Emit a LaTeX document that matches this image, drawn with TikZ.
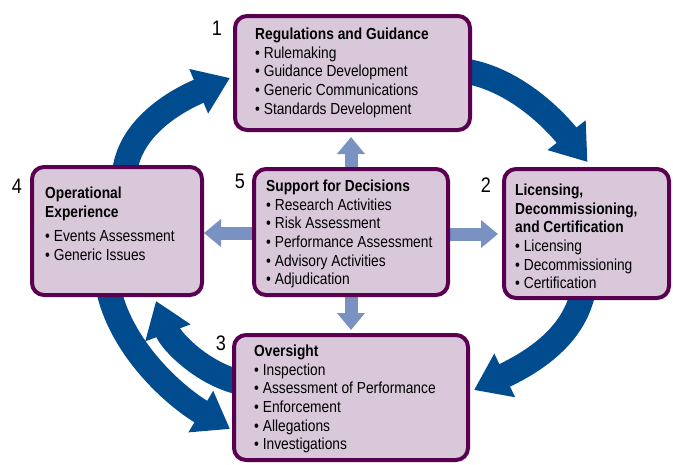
\documentclass[tikz,border=0pt]{standalone}
\usepackage{fontspec}
\setmainfont[FakeStretch=0.86]{Liberation Sans}
\usetikzlibrary{arrows.meta,backgrounds}

\definecolor{boxfill}{RGB}{216,200,218}
\definecolor{boxline}{RGB}{90,0,80}
\definecolor{cycleblue}{RGB}{0,76,143}
\definecolor{supportblue}{RGB}{122,146,194}

\tikzset{
    box/.style={draw=boxline, fill=boxfill, line width=4pt, rounded corners=12pt, inner sep=0pt},
    boxtext/.style={anchor=north west, inner sep=0pt, align=left, font=\fontsize{16}{18.6}\selectfont},
    stepnum/.style={font=\fontsize{21}{24}\selectfont},
    cyclearrow/.style={draw=cycleblue, line width=25pt, -{Triangle[width=46pt,length=34pt]}},
    supportarrow/.style={draw=supportblue, line width=13pt, -{Triangle[width=27pt,length=17pt]}},
}

\begin{document}
\begin{tikzpicture}[x=1pt, y=-1pt]
    \useasboundingbox (0,0) rectangle (673,464);

    % The five boxes
    \node[box, minimum width=235pt, minimum height=114pt] (reg) at (352.5,73) {};
    \node[box, minimum width=165pt, minimum height=129pt] (lic) at (586.5,233.5) {};
    \node[box, minimum width=234pt, minimum height=125pt] (ovs) at (351,397.5) {};
    \node[box, minimum width=170pt, minimum height=128pt] (ops) at (117,231) {};
    \node[box, minimum width=194pt, minimum height=126pt] (sup) at (351,232) {};

    % Box contents
    \node[boxtext] (regtext) at (255,28) {\textbf{Regulations and Guidance}\\
        •\ Rulemaking\\ •\ Guidance Development\\
        •\ Generic Communications\\ •\ Standards Development};
    \node[boxtext] (lictext) at (515,184) {\textbf{Licensing,}\\
        \textbf{Decommissioning,}\\ \textbf{and Certification}\\
        •\ Licensing\\ •\ Decommissioning\\ •\ Certification};
    \node[boxtext] (ovstext) at (254,345) {\textbf{Oversight}\\
        •\ Inspection\\ •\ Assessment of Performance\\ •\ Enforcement\\
        •\ Allegations\\ •\ Investigations};
    \node[boxtext] (opstext) at (45,187) {\textbf{Operational}\\
        \textbf{Experience}\\[6pt] •\ Events Assessment\\ •\ Generic Issues};
    \node[boxtext] (suptext) at (266,180) {\textbf{Support for Decisions}\\
        •\ Research Activities\\ •\ Risk Assessment\\
        •\ Performance Assessment\\ •\ Advisory Activities\\ •\ Adjudication};

    % Step numbers
    \node[stepnum] (n1) at (217,28) {1};
    \node[stepnum] (n2) at (486,185) {2};
    \node[stepnum] (n3) at (221,343) {3};
    \node[stepnum] (n4) at (17,186) {4};
    \node[stepnum] (n5) at (240,181) {5};

    \begin{scope}[on background layer]
        % Main cycle
        \draw[cyclearrow] ([shift={(7,15)}]ops.north)
            .. controls +(1,-52) and +(-52,22) .. ([shift={(-3,5)}]reg.west);
        \draw[cyclearrow] ([shift={(-15,-3)}]reg.east)
            .. controls +(55,5) and +(-32,-41) .. ([shift={(1,-5)}]lic.north);
        \draw[cyclearrow] ([shift={(-2,-18)}]lic.south)
            .. controls +(-5,50) and +(63,-30) .. ([shift={(4,-7.5)}]ovs.east);
        \draw[cyclearrow] ([shift={(11,-14.5)}]ovs.west)
            .. controls +(-40,-8) and +(15,40) .. ([shift={(39,4)}]ops.south);
        \draw[cyclearrow] ([shift={(-9,-10)}]ops.south)
            .. controls +(12,60) and +(-57,-34) .. ([shift={(-2,31.5)}]ovs.west);

        % Support feeds every other box
        \draw[supportarrow, shorten >=5pt] (sup) -- (sup |- reg.south);
        \draw[supportarrow, shorten >=3pt] (sup) -- (sup |- ovs.north);
        \draw[supportarrow] ([yshift=-1pt]sup.center) -- ([yshift=-1pt]sup -| ops.east);
        \draw[supportarrow, shorten >=4pt] ([yshift=-2pt]sup.center) -- ([yshift=-2pt]sup -| lic.west);
    \end{scope}
\end{tikzpicture}
\end{document}
